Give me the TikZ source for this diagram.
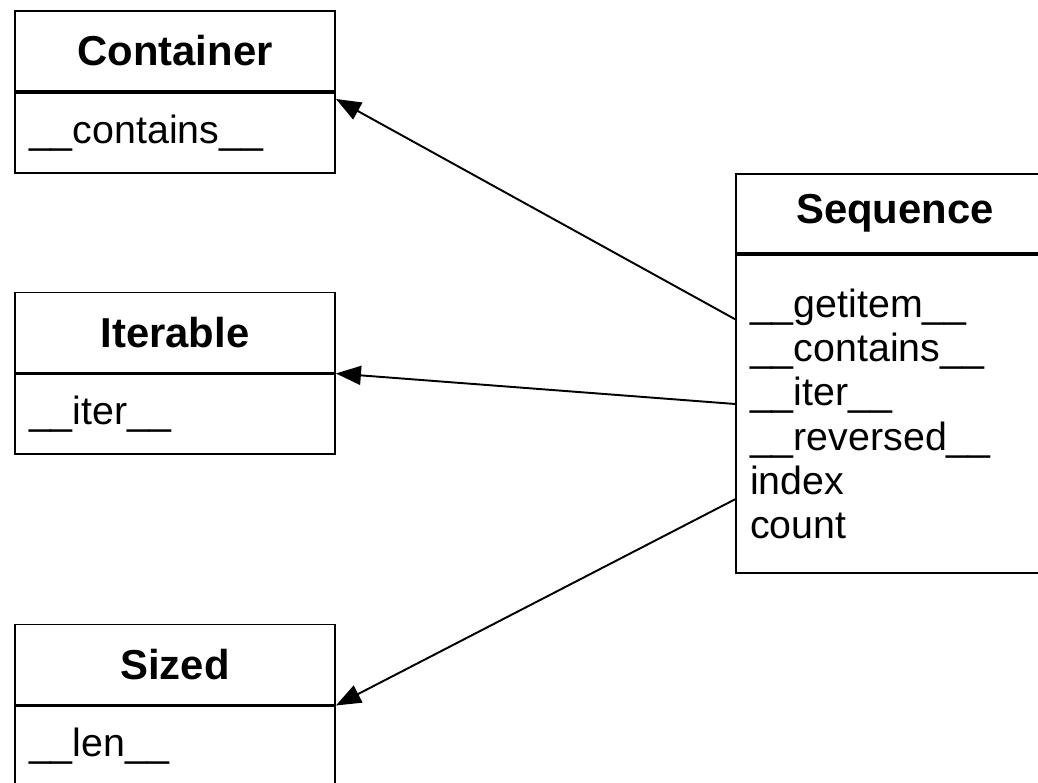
\documentclass[tikz,border=0pt]{standalone}
\usepackage{fontspec}
\setmainfont{Liberation Sans}
\usetikzlibrary{positioning}
\usetikzlibrary{calc}
\usetikzlibrary{arrows.meta}

\begin{document}
\begin{tikzpicture} [
    x=0.02cm, y=-0.02cm,            % one unit is one pixel of the sketch
    node distance=0pt,              % compartments sit right under the name
    ]
% -------------------------------------------------
\tikzset{
  base/.style={draw, line width=1.1pt, rectangle, inner sep=0pt},
  head/.style={base, minimum width=64mm, minimum height=16mm, font=\fontsize{23.8}{28}\selectfont\bfseries},
  body/.style={base, minimum height=16mm, text width=58.4mm, inner xsep=2.8mm, align=left, font=\fontsize{22.4}{25.2}\selectfont},
  line/.style={draw, line width=1.1pt, -{Triangle[length=5mm, width=3.8mm]}}
}

    \useasboundingbox (0,0) rectangle (1038,782);                    % page frame

    \node [head] (cnt) at (175,51) {Container};
    \node [body, below=of cnt] (cntb) {\_\_contains\_\_};

    \node [head] (itr) at (175,332.5) {Iterable};
    \node [body, below=of itr] (itrb) {\_\_iter\_\_};

    \node [head] (szd) at (175,664.5) {Sized};
    \node [body, below=of szd] (szdb) {\_\_len\_\_};

    \node [head, minimum width=63.6mm, minimum height=15.8mm] (seq) at (895,213.5) {Sequence};
    \node [body, below=of seq, text width=58mm, minimum height=63.6mm] (seqb) {\_\_getitem\_\_\\
        \_\_contains\_\_\\
        \_\_iter\_\_\\
        \_\_reversed\_\_\\
        index\\
        count};

    \path [line] ($(seqb.north west)!0.204!(seqb.south west)$) -- ($(cntb.north east)+(0,7)$);   % Sequence -> Container
    \path [line] ($(seqb.north west)!0.469!(seqb.south west)$) -- (itrb.north east);              % Sequence -> Iterable
    \path [line] ($(seqb.north west)!0.767!(seqb.south west)$) -- (szdb.north east);              % Sequence -> Sized

\end{tikzpicture}
\end{document}
